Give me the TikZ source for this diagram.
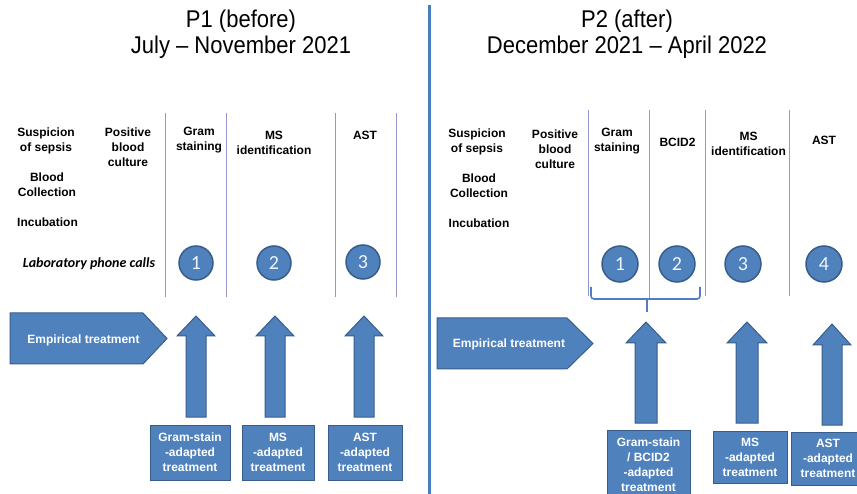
\documentclass[tikz,border=0pt]{standalone}
\usepackage{fontspec}
\setmainfont{Liberation Sans}
\newfontfamily\calib{Carlito}
\definecolor{blk}{HTML}{4F81BD}
\definecolor{bdr}{HTML}{385D8A}
\definecolor{divc}{HTML}{4A7EBB}
\definecolor{thinc}{RGB}{150,150,205}
\definecolor{brk}{RGB}{80,125,195}
\newcommand\blockup[6]{\path[blockarrow] (#1,#2) -- (#1+#6,#3) -- (#1+#5,#3) -- (#1+#5,#4) -- (#1-#5,#4) -- (#1-#5,#3) -- (#1-#6,#3) -- cycle;}
\begin{document}
\begin{tikzpicture}[x=1pt,y=-1pt,
 lbl/.style={font=\bfseries\fontsize{12}{15}\selectfont, align=center, inner sep=0pt},
 ttl/.style={font=\fontsize{22}{24}\selectfont, align=center, inner sep=0pt, yscale=1.1},
 sep/.style={draw=thinc, line width=1pt},
 num/.style={circle, fill=blk, draw=bdr, line width=1.5pt, text=white!92!blk, font=\calib\fontsize{20}{20}\selectfont, inner sep=0pt},
 box/.style={fill=blk, draw=bdr, line width=1pt, text=white, font=\bfseries\fontsize{12}{15}\selectfont, align=center, inner sep=0pt},
 blockarrow/.style={fill=blk, draw=bdr, line width=1pt},
 emp/.style={text=white, font=\bfseries\fontsize{12}{15}\selectfont, inner sep=0pt},
]
\useasboundingbox (0,0) rectangle (857,494);

% titles
\node[ttl] (t1) at (241,34) {P1 (before)\\July -- November 2021};
\node[ttl] (t2) at (627,34) {P2 (after)\\December 2021 -- April 2022};
\draw[divc, line width=3pt] (429,5) -- (429,494);

% ---------- P1 ----------
\node[lbl] (s1) at (46,140.5) {Suspicion\\of sepsis};
\node[lbl] (b1) at (47,185) {Blood\\Collection};
\node[lbl] (i1) at (47.5,222) {Incubation};
\node[lbl] (p1) at (128,147) {Positive\\blood\\culture};
\node[lbl] (g1) at (199,140.5) {Gram\\staining};
\node[lbl] (m1) at (274,142.5) {MS\\identification};
\node[lbl] (a1) at (365,135) {AST};
\node[font=\calib\bfseries\itshape\fontsize{14}{14}\selectfont, inner sep=0pt] (lab) at (89,264) {Laboratory phone calls};
\foreach \x in {165,226,335,396} \draw[sep] (\x,113) -- (\x,297);
\node[num, minimum size=34pt] (c11) at (196,263) {1};
\node[num, minimum size=34pt] (c12) at (274,263) {2};
\node[num, minimum size=34pt] (c13) at (363,262) {3};

\path[blockarrow] (10,313) -- (143,313) -- (167,338.5) -- (143,364) -- (10,364) -- cycle;
\node[emp] (e1) at (83.5,340) {Empirical treatment};
\blockup{196}{316}{336}{417}{10}{19}
\blockup{275}{316}{336}{417}{10}{19}
\blockup{364}{316}{336}{417}{10}{19}
\node[box, minimum width=80pt, minimum height=55pt] (x11) at (190,452.5) {Gram-stain\\-adapted\\treatment};
\node[box, minimum width=72pt, minimum height=55pt] (x12) at (278,452.5) {MS\\-adapted\\treatment};
\node[box, minimum width=74pt, minimum height=55pt] (x13) at (365,452.5) {AST\\-adapted\\treatment};

% ---------- P2 ----------
\node[lbl] (s2) at (477,141.5) {Suspicion\\of sepsis};
\node[lbl] (b2) at (479,186) {Blood\\Collection};
\node[lbl] (i2) at (479,223) {Incubation};
\node[lbl] (p2) at (555,149) {Positive\\blood\\culture};
\node[lbl] (g2) at (617,141.5) {Gram\\staining};
\node[lbl] (bc) at (677.5,142) {BCID2};
\node[lbl] (m2) at (748.5,143.5) {MS\\identification};
\node[lbl] (a2) at (824,140) {AST};
\foreach \x in {588,705,789} \draw[sep] (\x,110) -- (\x,296);
\draw[sep] (649,110) -- (649,299);
\node[num, minimum size=36pt] (c21) at (620,264) {1};
\node[num, minimum size=36pt] (c22) at (677,264) {2};
\node[num, minimum size=36pt] (c23) at (743,264) {3};
\node[num, minimum size=36pt] (c24) at (824,264) {4};
\draw[brk, line width=1.6pt, rounded corners=3pt] (591,287) -- (591,299) -- (700,299) -- (700,287);
\coordinate (bm) at (647,299);
\coordinate (bt) at (647,312);
\draw[brk, line width=1.6pt] (bm) -- (bt);

\path[blockarrow] (437,318) -- (567,318) -- (593,343.5) -- (567,369) -- (437,369) -- cycle;
\node[emp] (e2) at (509,344) {Empirical treatment};
\blockup{646}{322}{343}{423}{11}{20}
\blockup{747}{322}{343}{423}{11}{20}
\blockup{832}{324}{345}{425}{10}{19}
\node[box, minimum width=83pt, minimum height=70pt] (x21) at (648.5,465) {Gram-stain\\/ BCID2\\-adapted\\treatment};
\node[box, minimum width=74pt, minimum height=52pt] (x22) at (750,457) {MS\\-adapted\\treatment};
\node[box, minimum width=74pt, minimum height=53pt] (x23) at (828,458.5) {AST\\-adapted\\treatment};
\end{tikzpicture}
\end{document}
